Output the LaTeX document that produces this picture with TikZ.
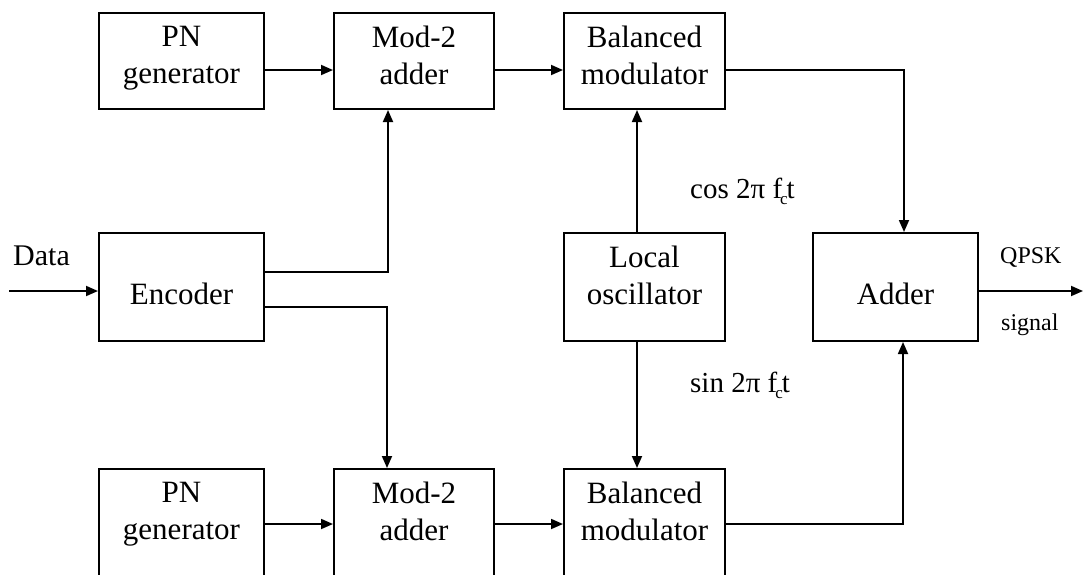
\documentclass[tikz,border=0pt]{standalone}
\usepackage{fontspec}
\setmainfont{Liberation Serif}
\usetikzlibrary{arrows.meta}
\newcommand\fcsub{\kern-2pt\raisebox{-6pt}{\fontsize{17}{17}\selectfont c}\kern-1pt}
\begin{document}
\begin{tikzpicture}[x=1pt,y=-1pt,
  blk/.style={draw, line width=2pt, inner sep=0pt},
  txt/.style={font=\fontsize{31}{37}\selectfont, align=center, inner sep=0pt},
  lbl/.style={inner sep=0pt, anchor=base west},
  conn/.style={line width=1.8pt, -{Triangle[length=12pt,width=10pt]}}]
\useasboundingbox (0,0) rectangle (1084,574);
% boxes
\node[blk, minimum width=165pt, minimum height=96pt] (pn1) at (181.5,61) {};
\node[blk, minimum width=160pt, minimum height=96pt] (mod1) at (414,61) {};
\node[blk, minimum width=161pt, minimum height=96pt] (bal1) at (644.5,61) {};
\node[blk, minimum width=165pt, minimum height=108pt] (enc) at (181.5,287) {};
\node[blk, minimum width=161pt, minimum height=108pt] (osc) at (644.5,287) {};
\node[blk, minimum width=165pt, minimum height=108pt] (add) at (895.5,287) {};
\node[blk, minimum width=165pt, minimum height=108pt] (pn2) at (181.5,523) {};
\node[blk, minimum width=160pt, minimum height=108pt] (mod2) at (414,523) {};
\node[blk, minimum width=161pt, minimum height=108pt] (bal2) at (644.5,523) {};
% box texts
\node[txt, anchor=north] (pn1t) at ([yshift=-14pt]pn1.north) {PN\\generator};
\node[txt, anchor=north] (mod1t) at ([yshift=-14pt]mod1.north) {Mod-2\\adder};
\node[txt, anchor=north] (bal1t) at ([yshift=-14pt]bal1.north) {Balanced\\modulator};
\node[txt, anchor=base] (enct) at ([yshift=-17pt]enc.center) {Encoder};
\node[txt, anchor=north] (osct) at ([yshift=-14pt]osc.north) {Local\\oscillator};
\node[txt, anchor=base] (addt) at ([yshift=-17pt]add.center) {Adder};
\node[txt, anchor=north] (pn2t) at ([yshift=-14pt]pn2.north) {PN\\generator};
\node[txt, anchor=north] (mod2t) at ([yshift=-14pt]mod2.north) {Mod-2\\adder};
\node[txt, anchor=north] (bal2t) at ([yshift=-14pt]bal2.north) {Balanced\\modulator};
% free ends
\coordinate (din) at (9,291);
\coordinate (dout) at (1083,291);
% connectors
\draw[conn] ([yshift=-9pt]pn1.east) -- ([yshift=-9pt]mod1.west);
\draw[conn] ([yshift=-9pt]mod1.east) -- ([yshift=-9pt]bal1.west);
\draw[conn] ([yshift=-9pt]bal1.east) -| ([xshift=8.5pt]add.north);
\draw[conn] ([yshift=15pt]enc.east) -| ([xshift=-26pt]mod1.south);
\draw[conn] ([yshift=-20pt]enc.east) -| ([xshift=-27pt]mod2.north);
\draw[conn] ([xshift=-7.5pt]osc.north) -- ([xshift=-7.5pt]bal1.south);
\draw[conn] ([xshift=-7.5pt]osc.south) -- ([xshift=-7.5pt]bal2.north);
\draw[conn] ([yshift=-1pt]pn2.east) -- ([yshift=-1pt]mod2.west);
\draw[conn] ([yshift=-1pt]mod2.east) -- ([yshift=-1pt]bal2.west);
\draw[conn] ([yshift=-1pt]bal2.east) -| ([xshift=7.5pt]add.south);
\draw[conn] (din) -- ([yshift=-4pt]enc.west);
\draw[conn] ([yshift=-4pt]add.east) -- (dout);
% labels
\node[lbl, font=\fontsize{30}{36}\selectfont] (data) at (13,265) {Data};
\node[lbl, font=\fontsize{24}{28}\selectfont] (qpsk) at (1000,263) {QPSK};
\node[lbl, font=\fontsize{24}{28}\selectfont] (sig) at (1001,330) {signal};
\node[lbl, font=\fontsize{29}{35}\selectfont] (cosl) at (690,198) {cos 2π f\fcsub t};
\node[lbl, font=\fontsize{29}{35}\selectfont] (sinl) at (690,392) {sin 2π f\fcsub t};
\end{tikzpicture}
\end{document}
